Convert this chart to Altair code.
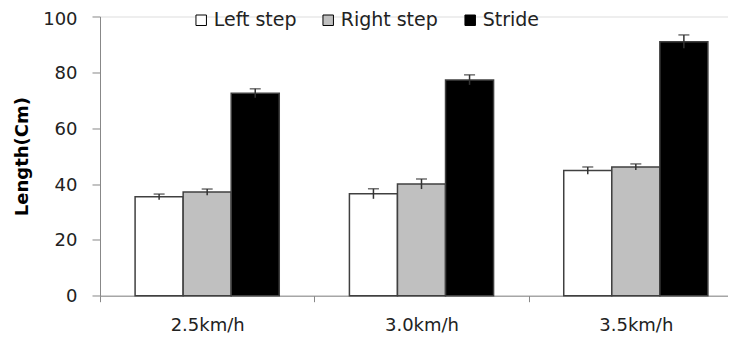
import altair as alt
import pandas as pd

speeds = ["2.5km/h", "3.0km/h", "3.5km/h"]
series = ["Left step", "Right step", "Stride"]
left_step = [35.4, 36.5, 44.8]
right_step = [37.1, 40.0, 46.1]
stride = [72.5, 77.3, 91.0]
left_err = [1.0, 1.8, 1.3]
right_err = [1.1, 1.8, 1.1]
stride_err = [1.6, 1.8, 2.4]
colors = ["#ffffff", "#c0c0c0", "#000000"]

rows = []
for s, vals, errs in zip(series, [left_step, right_step, stride],
                         [left_err, right_err, stride_err]):
    for sp, v, e in zip(speeds, vals, errs):
        rows.append({"speed": sp, "series": s, "value": v, "lo": v - e, "hi": v + e})
df = pd.DataFrame(rows)

FONT = "DejaVu Sans"

x = alt.X(
    "speed:N", sort=speeds, title=None,
    scale=alt.Scale(range=[0, 643], paddingInner=0, paddingOuter=0),
    axis=alt.Axis(labelAngle=0, tickBand="extent", tickSize=6, labelPadding=15,
                  labelFontSize=18, labelFont=FONT, labelColor="#222222",
                  domainColor="#888888", tickColor="#888888", grid=False),
)
xo = alt.XOffset("series:N", sort=series,
                 scale=alt.Scale(paddingInner=0, paddingOuter=0.73))

y = alt.Y(
    "value:Q", scale=alt.Scale(domain=[0, 100]),
    axis=alt.Axis(values=[0, 20, 40, 60, 80, 100], title="Length(Cm)",
                  titleFontSize=18, titleFont=FONT, titleFontWeight="bold",
                  titleColor="#000000", titlePadding=11.5,
                  labelFontSize=18, labelFont=FONT, labelColor="#222222",
                  labelPadding=15,
                  labelOffset={"condition": {"test": "datum.value == 100", "value": 3},
                               "value": 1},
                  tickSize=8, grid=False,
                  domainColor="#888888", tickColor="#888888"),
)

color = alt.Color(
    "series:N", sort=series,
    scale=alt.Scale(domain=series, range=colors),
    legend=alt.Legend(title=None, orient="none", direction="horizontal",
                      legendX=91.7, legendY=-6, symbolType="square",
                      symbolSize=110, symbolStrokeColor="#000000",
                      symbolStrokeWidth=1, labelFontSize=19, labelFont=FONT,
                      labelColor="#222222", labelOffset=3, columnPadding=22,
                      padding=0),
)

base = alt.Chart(df)

bars = base.mark_bar(stroke="#404040", strokeWidth=1.5).encode(
    x=x, xOffset=xo, y=y, color=color
)
err = base.mark_rule(color="#333333", strokeWidth=1.5).encode(
    x=x, xOffset=xo, y="lo:Q", y2="hi:Q"
)
caps = base.mark_tick(color="#333333", size=11, thickness=1.5).encode(
    x=x, xOffset=xo, y="hi:Q"
)

chart = alt.layer(bars, err, caps).properties(
    width=628, height=279.2,
    autosize=alt.AutoSizeParams(type="none"),
    padding={"left": 92, "top": 8.5, "right": 0, "bottom": 41},
).configure_view(stroke=None).configure(font=FONT)

chart.save("out.html", embed_options={"renderer": "svg", "actions": False})
